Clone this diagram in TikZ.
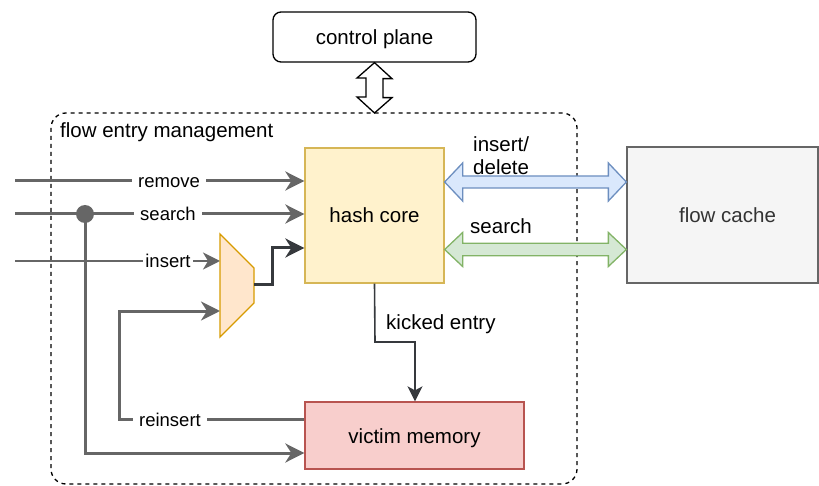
\documentclass[tikz,border=0pt]{standalone}
\usepackage{fontspec}
\setmainfont{Liberation Sans}
\usetikzlibrary{arrows.meta,calc}

\definecolor{wire}{HTML}{666666}
\definecolor{darkwire}{HTML}{36393D}
\definecolor{corefill}{HTML}{FFF2CC}\definecolor{coreline}{HTML}{D6B656}
\definecolor{cachefill}{HTML}{F5F5F5}\definecolor{cacheline}{HTML}{666666}\definecolor{cachetext}{HTML}{333333}
\definecolor{vicfill}{HTML}{F8CECC}\definecolor{vicline}{HTML}{B85450}
\definecolor{muxfill}{HTML}{FFE6CC}\definecolor{muxline}{HTML}{D79B00}
\definecolor{bluefill}{HTML}{DAE8FC}\definecolor{blueline}{HTML}{6C8EBF}
\definecolor{greenfill}{HTML}{D5E8D4}\definecolor{greenline}{HTML}{82B366}

% horizontal hollow double arrow between two points on one level:
% #1 style, #2 left tip, #3 right tip, #4 head half width, #5 shaft half width
\newcommand\hollowarrowH[5]{%
  \draw[#1] (#2) -- ++(18,-#4) -- ++(0,#4-#5) -- ($(#3)+(-18,-#5)$)
    -- ++(0,#5-#4) -- (#3) -- ++(-18,#4) -- ++(0,#5-#4)
    -- ($(#2)+(18,#5)$) -- ++(0,#4-#5) -- cycle;}

\begin{document}
\begin{tikzpicture}[x=1pt,y=-1pt,
  mainfont/.style={font=\fontsize{20.5}{23}\selectfont},
  smallfont/.style={font=\fontsize{18.5}{20}\selectfont},
  block/.style={draw, line width=1.3pt, inner sep=0pt, mainfont, text height=19pt, text depth=4pt},
  conn/.style={draw=wire, line width=3pt, -{Stealth[length=19pt,width=19pt,inset=6pt]}},
  thinconn/.style={draw=wire, line width=2pt, -{Stealth[length=17pt,width=17pt,inset=5pt]}},
  darkconn/.style={draw=darkwire, line width=3pt, -{Stealth[length=19pt,width=19pt,inset=6pt]}},
  kickconn/.style={draw=darkwire, line width=1.6pt, -{Stealth[length=15pt,width=15pt,inset=4pt]}},
  lbl/.style={fill=white, smallfont, inner xsep=6pt, inner ysep=1pt, text height=14pt, text depth=0pt},
]
\useasboundingbox (0,0) rectangle (819,486);

% management area
\draw[line width=1.3pt, dash pattern=on 4pt off 4pt, rounded corners=15pt]
  (51,113) rectangle (577,484);
\node[mainfont, anchor=base west, inner sep=0pt] (mgmt) at (60,138) {flow entry management};

% blocks
\node[block, rounded corners=8pt, minimum width=203pt, minimum height=50pt]
  (ctrl) at (374.5,37) {control plane};
\node[block, fill=corefill, draw=coreline, minimum width=139pt, minimum height=135pt]
  (core) at (374.5,215.5) {hash core};
\node[block, fill=cachefill, draw=cacheline, text=cachetext, minimum width=191pt, minimum height=136pt]
  (cache) at (722.5,215) {\hspace*{10pt}flow cache};
\node[block, fill=vicfill, draw=vicline, minimum width=219pt, minimum height=67pt]
  (victim) at (414.5,435.5) {victim memory};

% selector in front of the hash core
\draw[fill=muxfill, draw=muxline, line width=1.3pt]
  (220,234) -- (254,268) -- (254,303) -- (220,337) -- cycle;
\coordinate (muxA) at (220,261);
\coordinate (muxB) at (220,311);
\coordinate (muxOut) at (254,285);

% control plane link
\draw[line width=1.3pt, fill=white]
  (ctrl.south) -- ++(17.5,16) -- ++(-9,0) -- ++(0,19) -- ++(9,0)
  -- (374.5,113) -- ++(-17.5,-16) -- ++(9,0) -- ++(0,-19) -- ++(-9,0) -- cycle;

% external inputs
\coordinate (inRemove) at (15,181);
\coordinate (inSearch) at (15,214);
\coordinate (inInsert) at (15,261);
\coordinate (tap) at (85,214);

\draw[conn] (inRemove) -- (core.west |- inRemove)
  node[lbl] at (169,181) {remove};
\draw[conn] (inSearch) -- (core.west |- inSearch)
  node[lbl] at (168,214) {search};
\draw[thinconn] (inInsert) -- (muxA)
  node[lbl, inner xsep=2pt] at (168,261) {insert};
\draw[conn] (tap) -- (tap |- 0,453) -- (victim.west |- 0,453);
\fill[wire] (tap) circle (9pt);

% reinsert loop
\draw[conn] (victim.west |- 0,419) -- (119,419) -- (119,311) -- (muxB)
  node[lbl] at (170,419) {reinsert};

% selector output into the hash core
\draw[darkconn] (muxOut) -- (272,285) -- (272,248) -- (core.west |- 0,248);

% kicked entry
\draw[kickconn] (core.south) -- (375,342) -- (415,342) -- (victim.north -| 415,0);
\node[mainfont, anchor=base west, inner sep=0pt] (kicked) at (386,329) {kicked entry};

% hash core <-> flow cache
\coordinate (bL) at (core.east |- 0,182);
\coordinate (bR) at (cache.west |- 0,182);
\coordinate (gL) at (core.east |- 0,249.5);
\coordinate (gR) at (cache.west |- 0,249.5);
\hollowarrowH{fill=bluefill, draw=blueline, line width=1.3pt}{bL}{bR}{19}{6}
\hollowarrowH{fill=greenfill, draw=greenline, line width=1.3pt}{gL}{gR}{17}{6.3}
\node[mainfont, anchor=west, align=left, inner sep=0pt] (insdel) at (473,156) {insert/\\delete};
\node[mainfont, anchor=base west, inner sep=0pt] (srch) at (470,234) {search};
\end{tikzpicture}
\end{document}
